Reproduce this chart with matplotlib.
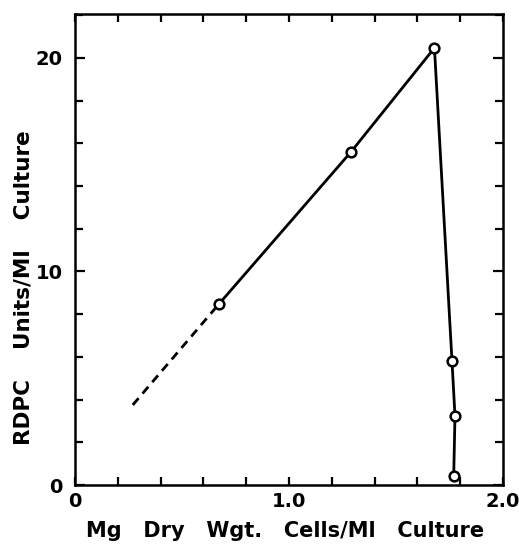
import matplotlib
matplotlib.use("Agg")
import matplotlib.pyplot as plt
from matplotlib.ticker import MultipleLocator

# measured points (dry weight mg/ml, RDPC units/ml)
dry_wgt = [0.673, 1.29, 1.68, 1.762, 1.776, 1.77]
rdpc = [8.48, 15.6, 20.47, 5.81, 3.23, 0.42]

# extrapolated part (dashed)
extrap_x = [0.27, 0.673]
extrap_y = [3.75, 8.48]

plt.rcParams['font.family'] = ['DejaVu Sans']
plt.rcParams['font.weight'] = 'bold'

fig = plt.figure(figsize=(5.19, 5.45), dpi=100)
ax = fig.add_axes([0.1445, 0.110, 0.8245, 0.864])

ax.plot(extrap_x, extrap_y, color='black', linewidth=2, linestyle=(0, (3.2, 2.2)),
        dash_capstyle='butt')
ax.plot(dry_wgt, rdpc, color='black', linewidth=2, marker='o', markersize=7,
        markerfacecolor='white', markeredgewidth=1.8, zorder=3)

ax.set_xlim(0, 2.0)
ax.set_ylim(0, 22.05)
ax.set_xticks([0, 1.0, 2.0])
ax.set_xticklabels(['0', '1.0', '2.0'])
ax.set_yticks([0, 10, 20])
ax.xaxis.set_minor_locator(MultipleLocator(0.2))
ax.yaxis.set_minor_locator(MultipleLocator(2))

for side in ax.spines.values():
    side.set_linewidth(1.8)

ax.tick_params(which='both', direction='in', top=True, right=True, width=1.6, length=6)
ax.tick_params(which='major', labelsize=14, pad=5)
ax.tick_params(axis='y', which='major', length=7, pad=9)

ax.set_xlabel('Mg   Dry   Wgt.   Cells/Ml   Culture', fontsize=15, fontweight='bold')
ax.xaxis.set_label_coords(0.49, -0.097, transform=ax.transAxes)
ax.xaxis.label.set_va('center')
ax.set_ylabel('RDPC    Units/Ml    Culture', fontsize=15.5, fontweight='bold')
ax.yaxis.set_label_coords(-0.12, 0.42, transform=ax.transAxes)
ax.yaxis.label.set_va('center')

fig.savefig('out.png', dpi=100)
